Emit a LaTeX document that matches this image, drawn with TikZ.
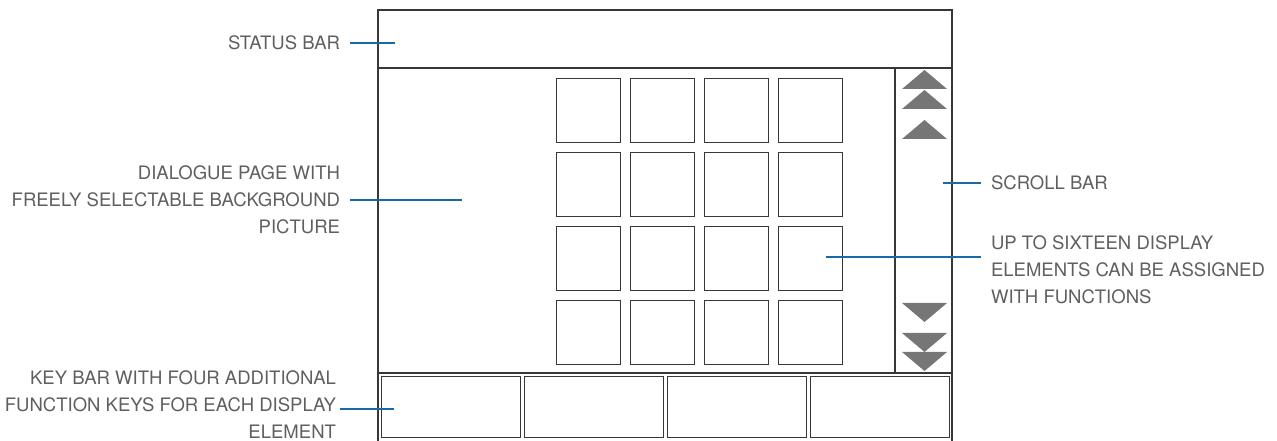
\documentclass[tikz,border=0pt]{standalone}
\usepackage{fontspec}
\newfontfamily\labelfont{TeX Gyre Heros}
\usetikzlibrary{calc,positioning}
\definecolor{framecol}{RGB}{55,55,55}
\definecolor{textcol}{RGB}{95,95,95}
\definecolor{leadcol}{RGB}{25,105,165}
\definecolor{tricol}{RGB}{118,118,118}
\tikzset{
  cell/.style={draw=framecol,line width=1pt,minimum size=48pt,inner sep=0pt,anchor=north west},
  keybox/.style={draw=framecol,line width=1pt,minimum width=104.25pt,minimum height=45.75pt,inner sep=0pt,anchor=north west},
  lbl/.style={font=\labelfont\fontsize{13.9}{20.25}\selectfont,text=textcol,inner sep=0pt,outer sep=7.5pt},
  lead/.style={draw=leadcol,line width=0.9pt}
}

\begin{document}
\begin{tikzpicture}[x=0.75pt,y=-0.75pt]
  \useasboundingbox (0,0) rectangle (1277,441);
  \draw[framecol,line width=1pt] (378,441) |- (952,10) -- (952,441);
  \draw[framecol,line width=1pt] (378,68) -- (952,68);
  \draw[framecol,line width=1pt] (895,68) -- (895,373);
  \draw[framecol,line width=1pt] (378,373) -- (952,373);
  \foreach \r in {0,...,3}
    \foreach \c in {0,...,3}
      \node[cell] (cell\r\c) at ({556+74*\c},{78+74*\r}) {};
  \foreach \k in {0,...,3}
    \node[keybox] (key\k) at ({381+143*\k},376) {};
  \foreach \y in {70,90,120}
    \fill[tricol] (902,{\y+19}) -- (924.5,\y) -- (947,{\y+19}) -- cycle;
  \foreach \y in {303,333,352}
    \fill[tricol] (902,\y) -- (924.5,{\y+19}) -- (947,\y) -- cycle;
  \node[lbl,anchor=east] (statuslbl) at (350,43) {STATUS BAR};
  \coordinate (statuspt) at (395,43);
  \draw[lead] (statuslbl.east) -- (statuspt);
  \node[lbl,anchor=east,align=right] (dialoglbl) at (350,200)
    {DIALOGUE PAGE WITH\\FREELY SELECTABLE BACKGROUND\\PICTURE};
  \coordinate (dialogpt) at (462,200);
  \draw[lead] (dialoglbl.east) -- (dialogpt);
  \node[lbl,anchor=west] (scrolllbl) at (981,183) {SCROLL BAR};
  \coordinate (scrollpt) at (943,183);
  \draw[lead] (scrollpt) -- (scrolllbl.west);
  \node[lbl,anchor=west,align=left] (elemlbl) at (981,270)
    {UP TO SIXTEEN DISPLAY\\ELEMENTS CAN BE ASSIGNED\\WITH FUNCTIONS};
  \coordinate (elempt) at (826,257);
  \draw[lead] (elempt) -- (elempt -| elemlbl.west);
  \node[lbl,anchor=east,align=right,outer sep=3pt] (keylbl) at (340,405)
    {KEY BAR WITH FOUR ADDITIONAL\\FUNCTION KEYS FOR EACH DISPLAY\\ELEMENT};
  \coordinate (keypt) at (394,409);
  \draw[lead] (keypt -| keylbl.east) -- (keypt);
\end{tikzpicture}
\end{document}
